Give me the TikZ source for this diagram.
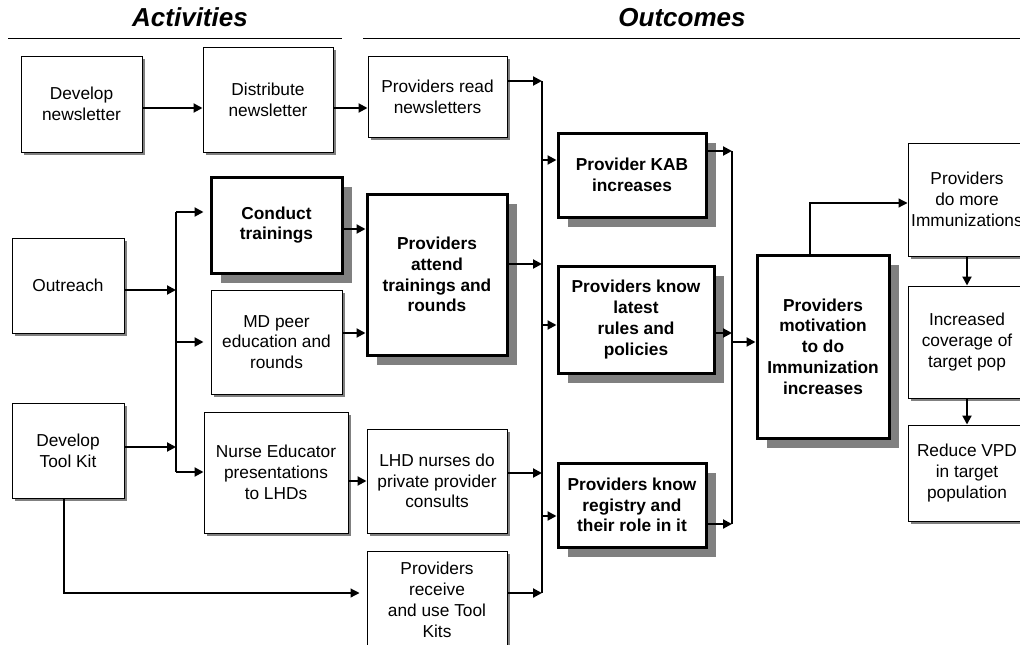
\documentclass[tikz,border=0pt]{standalone}
\usepackage{fontspec}
\setmainfont{Liberation Sans}
\usetikzlibrary{arrows.meta,shadows}

\tikzset{
  plain/.style={draw,fill=white,align=center,inner sep=2pt,
    font=\fontsize{17.3pt}{20.8pt}\selectfont},
  box/.style={plain,line width=1pt,
    drop shadow={shadow xshift=3pt,shadow yshift=-3pt,fill=gray,opacity=1}},
  keybox/.style={plain,line width=3pt,
    font=\fontsize{17.3pt}{20.8pt}\selectfont\bfseries,
    drop shadow={shadow xshift=10pt,shadow yshift=-10pt,fill=gray,opacity=1}},
  sz/.style 2 args={minimum width=#1pt,minimum height=#2pt},
  hd/.style={anchor=base,font=\fontsize{26pt}{30pt}\selectfont\bfseries\itshape},
  bus/.style={line width=1.2pt},
}

\begin{document}
\begin{tikzpicture}[x=1pt,y=-1pt,>={Triangle[length=9pt,width=9pt]}]
\clip (0,0) rectangle (1020,645);

% headings
\node[hd] (act) at (190,27) {Activities};
\node[hd] (out) at (682,27) {Outcomes};
\draw[line width=1pt] (8,38) -- (342,38);
\draw[line width=1pt] (363,38) -- (1020,38);

% activities
\node[box,sz={121}{96}] (A) at (81.5,104) {Develop\\newsletter};
\node[box,sz={130}{105}] (B) at (268,99.5) {Distribute\\newsletter};
\node[box,sz={112}{95}] (D) at (68,285.5) {Outreach};
\node[box,sz={112}{95}] (E) at (68,450.5) {Develop\\Tool Kit};
\node[keybox,sz={131}{96}] (F) at (276.5,225) {Conduct\\trainings};
\node[box,sz={131}{104}] (G) at (276.5,342) {MD peer\\education and\\rounds};
\node[box,sz={144}{121}] (H) at (276,472.5) {Nurse Educator\\presentations\\to LHDs};

% outcomes
\node[box,sz={139}{81}] (C) at (437.5,96.5) {Providers read\\newsletters};
\node[keybox,sz={140}{161}] (I) at (437,274.5) {Providers\\attend\\trainings and\\rounds};
\node[box,sz={140}{104}] (J) at (437,481) {LHD nurses do\\private provider\\consults};
\node[box,sz={140}{98}] (K) at (437,600) {Providers\\receive\\and use Tool\\Kits};
\node[keybox,sz={148}{84}] (L) at (632,175) {Provider KAB\\increases};
\node[keybox,sz={156}{107}] (M) at (636,319.5) {Providers know\\latest\\rules and\\policies};
\node[keybox,sz={148}{84}] (N) at (632,505) {Providers know\\registry and\\their role in it};
\node[keybox,sz={132}{183}] (O) at (823,346.5) {Providers\\motivation\\to do\\Immunization\\increases};
\node[box,sz={118}{113}] (P) at (967,199.5) {Providers\\do more\\Immunizations};
\node[box,sz={118}{112}] (Q) at (967,342) {Increased\\coverage of\\target pop};
\node[box,sz={118}{96}] (R) at (967,473) {Reduce VPD\\in target\\population};

% bus junctions
\coordinate (l1) at (176,212);
\coordinate (l2) at (176,290);
\coordinate (l3) at (176,342);
\coordinate (l4) at (176,447);
\coordinate (l5) at (176,472);
\coordinate (r1) at (542,81);
\coordinate (r2) at (542,160);
\coordinate (r3) at (542,264);
\coordinate (r4) at (542,325);
\coordinate (r5) at (542,473);
\coordinate (r6) at (542,516);
\coordinate (r7) at (542,593);
\coordinate (s1) at (732,151);
\coordinate (s2) at (732,333);
\coordinate (s3) at (732,342);
\coordinate (s4) at (732,524);

\draw[bus] (l1) -- (l5);
\draw[bus] (r1) -- (r7);
\draw[bus] (s1) -- (s4);
\draw[bus,->,shorten >=7pt] ([xshift=-4pt]E.south) |- (r7 -| K.west);
\draw[bus,->] ([xshift=-13pt]O.north) |- ([yshift=-3.5pt]P.west);

\begin{scope}[every edge/.style={draw,line width=2pt}]
  \path[->] ([yshift=-4pt]A.east) edge ([yshift=-4pt]A.east -| B.west);
  \path[->] ([yshift=-8.5pt]B.east) edge ([yshift=-8.5pt]B.east -| C.west);
  \path[->] (D.east |- l2) edge (l2);
  \path[->] (E.east |- l4) edge (l4);
  \path[->] (l1) edge (l1 -| H.west);
  \path[->] (l3) edge (l3 -| H.west);
  \path[->] (l5) edge (l5 -| H.west);
  \path[->] ([yshift=-4pt]F.east) edge ([yshift=-4pt]F.east -| I.west);
  \path[->] ([yshift=9pt]G.east) edge ([yshift=9pt]G.east -| I.west);
  \path[->] ([yshift=-8.5pt]H.east) edge ([yshift=-8.5pt]H.east -| J.west);
  \path[->] (C.east |- r1) edge (r1);
  \path[->] (I.east |- r3) edge (r3);
  \path[->] (J.east |- r5) edge (r5);
  \path[->] (K.east |- r7) edge (r7);
  \path[->] (r2) edge (r2 -| L.west);
  \path[->] (r4) edge (r4 -| M.west);
  \path[->] (r6) edge (r6 -| N.west);
  \path[->] (L.east |- s1) edge (s1);
  \path[->] (M.east |- s2) edge (s2);
  \path[->] (N.east |- s4) edge (s4);
  \path[->] (s3) edge (s3 -| O.west);
  \path[->] (P) edge (Q);
  \path[->] (Q) edge (R);
\end{scope}
\end{tikzpicture}
\end{document}
